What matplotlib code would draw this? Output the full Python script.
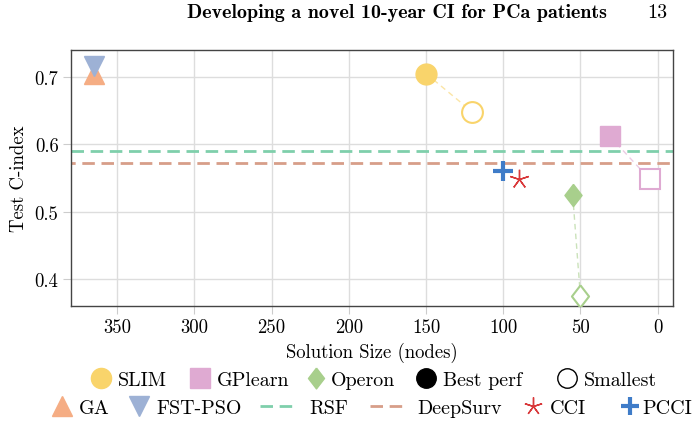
import matplotlib
matplotlib.use("Agg")
import matplotlib.pyplot as plt
from matplotlib.lines import Line2D

plt.rcParams["font.family"] = "serif"
plt.rcParams["font.serif"] = ["cmr10"]
plt.rcParams["mathtext.fontset"] = "cm"
plt.rcParams["axes.formatter.use_mathtext"] = True

# data
gp_methods = ["SLIM", "GPlearn", "Operon"]
gp_best_size = [150, 31, 55]
gp_best_cindex = [0.705, 0.612, 0.525]
gp_small_size = [120, 5, 50]
gp_small_cindex = [0.648, 0.548, 0.375]
gp_colors = ["#f9d46b", "#dfaad2", "#a8cf8c"]

ga_size, ga_cindex = 365, 0.704
pso_size, pso_cindex = 365, 0.716
cci_size, cci_cindex = 90, 0.549
pcci_size, pcci_cindex = 100, 0.560
rsf_cindex = 0.590
deepsurv_cindex = 0.573

xticks = [350, 300, 250, 200, 150, 100, 50, 0]
yticks = [0.4, 0.5, 0.6, 0.7]

W, H = 697, 427
FS = 14.4
diamond = [(0, 1), (0.77, 0), (0, -1), (-0.77, 0), (0, 1)]
gp_markers = ["o", "s", diamond]
gp_msize = [15, 14, 16]
dash = (0, (4.5, 2.4))

fig = plt.figure(figsize=(W / 100, H / 100), dpi=100)
ax = fig.add_axes([71 / W, 1 - 307 / H, 602 / W, 256 / H])

ax.axhline(rsf_cindex, color="#7fcfab", lw=2, ls=dash, zorder=2)
ax.axhline(deepsurv_cindex, color="#d79e89", lw=2, ls=(3, (4.5, 2.4)), zorder=2)

for i in range(len(gp_methods)):
    ax.plot([gp_best_size[i], gp_small_size[i]], [gp_best_cindex[i], gp_small_cindex[i]],
            color=gp_colors[i], lw=1, ls=(0, (4, 3)), alpha=0.6, zorder=3)
    ax.plot(gp_best_size[i], gp_best_cindex[i], marker=gp_markers[i], ms=gp_msize[i],
            color=gp_colors[i], mec=gp_colors[i], ls="none", zorder=4)
    ax.plot(gp_small_size[i], gp_small_cindex[i], marker=gp_markers[i], ms=gp_msize[i],
            mfc="white", mec=gp_colors[i], mew=1.5, ls="none", zorder=4)

ax.plot(ga_size, ga_cindex, marker="^", ms=15, color="#f5ad84", ls="none", zorder=4)
ax.plot(pso_size, pso_cindex, marker="v", ms=15, color="#9db1d5", ls="none", zorder=4)
ax.plot(cci_size, cci_cindex, marker=(5, 2, 0), ms=14, color="#d9393b", mew=1, ls="none", zorder=5)
ax.plot(pcci_size, pcci_cindex, marker="+", ms=15, color="#3f7cc8", mew=3, ls="none", zorder=5)

ax.set_xlim(380, -10)
ax.set_ylim(0.36, 0.74)
ax.set_xticks(xticks)
ax.set_yticks(yticks)
ax.set_xticklabels([str(t) for t in xticks])
ax.set_yticklabels([f"{t:.1f}" for t in yticks])
ax.grid(True, color="#dddddd", lw=1)
ax.set_axisbelow(True)
ax.tick_params(direction="out", length=6, color="#cccccc", labelsize=13.5, pad=3)
for s in ax.spines.values():
    s.set_color("#444444")
    s.set_linewidth(1)
ax.set_xlabel("Solution Size (nodes)", fontsize=13.5, labelpad=4)
ax.set_ylabel("Test C-index", fontsize=13.5, labelpad=5)

fig.text(397 / W, 1 - 13 / H, "Developing a novel 10-year CI for PCa patients",
         family="cmb10", fontsize=14.4, ha="center", va="center")
fig.text(667 / W, 1 - 13 / H, "13", fontsize=14.4, ha="right", va="center")


def add_entry(handle, label, x_px, y_px, hl=1.0, pad=0.35):
    leg = fig.legend([handle], [label], loc="center left",
                     bbox_to_anchor=(x_px / W, 1 - y_px / H),
                     frameon=False, fontsize=FS, handlelength=hl, handletextpad=pad,
                     borderpad=0, borderaxespad=0)
    return leg


# legend row 1
add_entry(Line2D([], [], marker="o", ms=14.5, color=gp_colors[0], ls="none"), "SLIM", 91, 381)
add_entry(Line2D([], [], marker="s", ms=14, color=gp_colors[1], ls="none"), "GPlearn", 190, 381)
add_entry(Line2D([], [], marker=diamond, ms=15, color=gp_colors[2], ls="none"), "Operon", 306, 381, pad=0.25)
add_entry(Line2D([], [], marker="o", ms=14, color="black", ls="none"), "Best perf", 416, 381)
add_entry(Line2D([], [], marker="o", ms=14, mfc="white", mec="black", mew=1, ls="none"),
          "Smallest", 557, 381)

# legend row 2
add_entry(Line2D([], [], marker="^", ms=14, color="#f5ad84", ls="none"), "GA", 52, 409)
add_entry(Line2D([], [], marker="v", ms=14, color="#9db1d5", ls="none"), "FST-PSO", 129, 409)
add_entry(Line2D([], [], color="#7fcfab", lw=2, ls=dash), "RSF", 260, 409, hl=1.85, pad=0.6)
add_entry(Line2D([], [], color="#d79e89", lw=2, ls=dash), "DeepSurv", 370, 409, hl=1.85, pad=0.5)
add_entry(Line2D([], [], marker=(5, 2, 0), ms=13, color="#d9393b", mew=1, ls="none"), "CCI", 523, 409)
add_entry(Line2D([], [], marker="+", ms=13, color="#3f7cc8", mew=3, ls="none"), "PCCI", 620, 409, pad=0.1)

fig.savefig("out.png", dpi=100)
